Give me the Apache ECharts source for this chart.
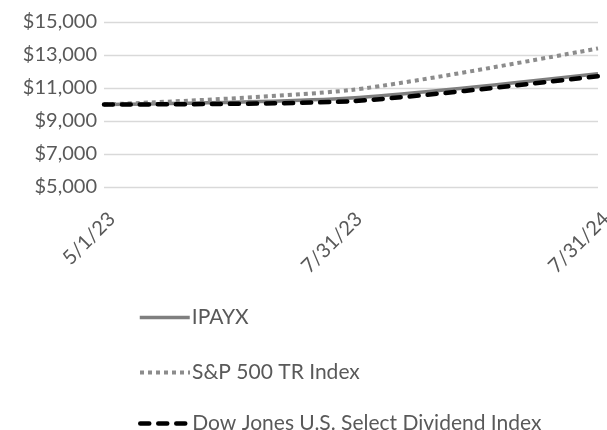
<!DOCTYPE html>
<html>
<head>
<meta charset="utf-8">
<script src="https://cdn.jsdelivr.net/npm/echarts@6/dist/echarts.min.js"></script>
<style>
html,body{margin:0;padding:0;background:#fff;}
#chart{width:607px;height:430px;}
</style>
</head>
<body>
<div id="chart"></div>
<script>
const categories = ['5/1/23', '7/31/23', '7/31/24'];
const ipayx = [10000, 10400, 11870];
const sp500 = [10000, 10880, 13400];
const dowJones = [10000, 10200, 11720];
const yTicks = [5000, 7000, 9000, 11000, 13000, 15000];
const seriesNames = ['IPAYX', 'S&P 500 TR Index', 'Dow Jones U.S. Select Dividend Index'];

const chart = echarts.init(document.getElementById('chart'));
const font = 'Lato, "Open Sans", sans-serif';
function legendFor(name, top, width) {
  return {
    orient: 'vertical',
    left: 133,
    top: top,
    itemWidth: 50,
    itemHeight: 20,
    itemGap: 0,
    itemStyle: { opacity: 0 },
    lineStyle: { width: width },
    textStyle: { color: '#595959', fontSize: 21, lineHeight: 20, fontFamily: font, padding: [0, 0, 0, -3] },
    data: [name]
  };
}
chart.setOption({
  animation: false,
  grid: { left: 104, right: 9, top: 22, bottom: 243, outerBoundsMode: 'none', containLabel: false },
  xAxis: {
    type: 'category',
    data: categories,
    boundaryGap: false,
    axisLine: { show: false },
    axisTick: { show: false },
    axisLabel: {
      rotate: 45,
      margin: 21,
      verticalAlign: 'top',
      lineHeight: 22,
      color: '#595959',
      fontSize: 20,
      fontFamily: font
    }
  },
  yAxis: {
    type: 'value',
    min: yTicks[0],
    max: yTicks[yTicks.length - 1],
    interval: 2000,
    axisLine: { show: false },
    axisTick: { show: false },
    splitLine: { lineStyle: { color: '#d9d9d9', width: 1.3 } },
    axisLabel: {
      margin: 7,
      color: '#595959',
      fontSize: 20,
      fontFamily: font,
      formatter: v => '$' + v.toLocaleString('en-US')
    }
  },
  legend: [
    legendFor(seriesNames[0], 302, 3.5),
    legendFor(seriesNames[1], 357, 4),
    legendFor(seriesNames[2], 408, 4.5)
  ],
  series: [
    {
      name: seriesNames[0], type: 'line', data: ipayx, smooth: 0.25,
      symbol: 'none', showSymbol: false,
      itemStyle: { color: '#7f7f7f' },
      lineStyle: { color: '#7f7f7f', width: 3.5 }
    },
    {
      name: seriesNames[1], type: 'line', data: sp500, smooth: 0.25,
      symbol: 'none', showSymbol: false,
      itemStyle: { color: '#8c8c8c' },
      lineStyle: { color: '#8c8c8c', width: 4, type: [4, 4], cap: 'butt' }
    },
    {
      name: seriesNames[2], type: 'line', data: dowJones, smooth: 0.25,
      symbol: 'none', showSymbol: false,
      itemStyle: { color: '#000000' },
      lineStyle: { color: '#000000', width: 4.5, type: [9, 9], cap: 'round' }
    }
  ]
});
</script>
</body>
</html>
